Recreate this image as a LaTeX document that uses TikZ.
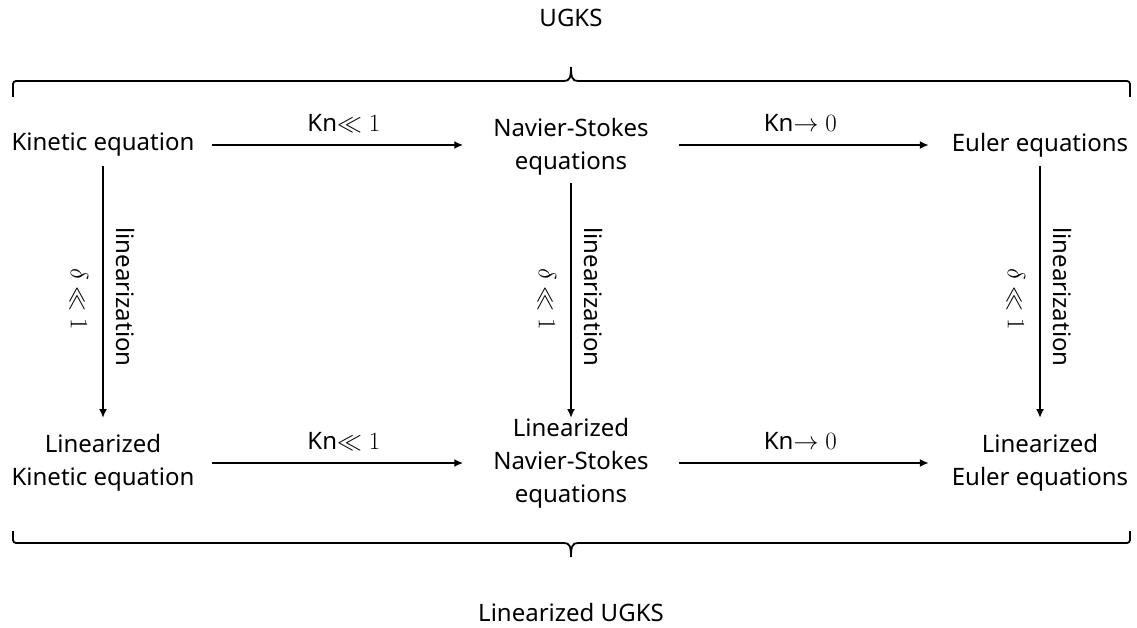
\documentclass[tikz,border=0pt]{standalone}
\usepackage{fontspec}
\setmainfont{Noto Sans}
\usetikzlibrary{arrows.meta}
\tikzset{
  txt/.style={align=center,inner sep=0pt,outer sep=0pt,font=\fontsize{24}{33}\selectfont},
  lbl/.style={inner sep=0pt,font=\fontsize{24}{30}\selectfont},
  arr/.style={line width=1.8pt,-{Latex[length=9pt,width=8pt]}},
  brc/.style={line width=1.8pt}
}
\begin{document}
\begin{tikzpicture}[x=1pt,y=-1pt]
\useasboundingbox (0,0) rectangle (1137,628);
\node[txt] (ugks) at (571,18) {UGKS};
\node[txt] (lugks) at (571,612) {Linearized UGKS};
\coordinate (tl) at (13,97);
\coordinate (tr) at (1130,97);
\coordinate (bl) at (13,531);
\coordinate (br) at (1130,531);
\draw[brc] (tl) [rounded corners=3pt] -- (13,81) -- (300,81) [sharp corners] -- (564,81)
  .. controls (569.5,81) and (571,78) .. (571,67)
  .. controls (571,78) and (572.5,81) .. (578,81) -- (800,81) [rounded corners=3pt] -- (1130,81) -- (tr);
\draw[brc] (bl) [rounded corners=3pt] -- (13,543) -- (300,543) [sharp corners] -- (564,543)
  .. controls (569.5,543) and (571,546) .. (571,557)
  .. controls (571,546) and (572.5,543) .. (578,543) -- (800,543) [rounded corners=3pt] -- (1130,543) -- (br);

\node[txt] (k) at (103,145) {Kinetic equation};
\node[txt] (ns) at (571,147) {Navier-Stokes\\equations};
\node[txt] (e) at (1040,145) {Euler equations};
\node[txt] (lk) at (103,463) {Linearized\\Kinetic equation};
\node[txt] (lns) at (571,463) {Linearized\\Navier-Stokes\\equations};
\node[txt] (le) at (1040,463) {Linearized\\Euler equations};

\draw[arr,shorten <=18pt,shorten >=30pt] (k.east) -- (k.east -| ns.west)
  node[lbl,midway,yshift=22pt] (l1) {Kn$\ll 1$};
\draw[arr,shorten <=30pt,shorten >=23pt] (k.east -| ns.east) -- (k.east -| e.west)
  node[lbl,midway,yshift=22pt] (l2) {Kn$\to 0$};
\draw[arr,shorten <=18pt,shorten >=30pt] (lk.east) -- (lk.east -| lns.west)
  node[lbl,midway,yshift=22pt] (l3) {Kn$\ll 1$};
\draw[arr,shorten <=30pt,shorten >=23pt] (lk.east -| lns.east) -- (lk.east -| le.west)
  node[lbl,midway,yshift=22pt] (l4) {Kn$\to 0$};

\draw[arr,shorten <=21pt,shorten >=45pt] (k.center) -- (lk.center)
  node[lbl,midway,rotate=-90,xshift=-7pt,yshift=22pt] (v1a) {linearization}
  node[lbl,midway,rotate=-90,xshift=-5pt,yshift=-24pt] (v1b) {$\delta\ll 1$};
\draw[arr,shorten <=36pt,shorten >=45pt] (ns.center) -- (lns.center)
  node[lbl,midway,rotate=-90,xshift=-8pt,yshift=22pt] (v2a) {linearization}
  node[lbl,midway,rotate=-90,xshift=-6pt,yshift=-24pt] (v2b) {$\delta\ll 1$};
\draw[arr,shorten <=21pt,shorten >=45pt] (e.center) -- (le.center)
  node[lbl,midway,rotate=-90,xshift=-7pt,yshift=22pt] (v3a) {linearization}
  node[lbl,midway,rotate=-90,xshift=-5pt,yshift=-24pt] (v3b) {$\delta\ll 1$};
\end{tikzpicture}
\end{document}
